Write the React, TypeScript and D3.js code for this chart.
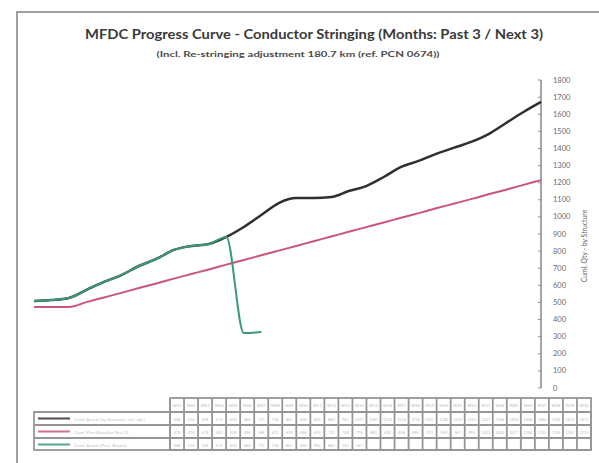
import React from "react";
import * as d3 from "d3";

const categories = [
  "W01","W02","W03","W04","W05","W06","W07","W08","W09","W10",
  "W11","W12","W13","W14","W15","W16","W17","W18","W19","W20",
  "W21","W22","W23","W24","W25","W26","W27","W28","W29","W30",
];

const actualCum = [
  508, 514, 526, 573, 620, 660, 713, 754, 807, 830,
  842, 883, 941, 1011, 1081, 1110, 1110, 1116, 1151, 1180,
  1233, 1292, 1327, 1368, 1403, 1438, 1484, 1549, 1613, 1672,
];

const planCum = [
  474, 474, 474, 502, 529, 556, 584, 611, 639, 666,
  693, 721, 748, 776, 803, 830, 858, 885, 913, 940,
  967, 995, 1022, 1050, 1077, 1104, 1132, 1159, 1187, 1215,
];

const prevActual: (number | null)[] = [
  508, 514, 526, 573, 620, 660, 713, 754, 807, 830,
  842, 883, 321, 327, null, null, null, null, null, null,
  null, null, null, null, null, null, null, null, null, null,
];

const yTicks = [0, 100, 200, 300, 400, 500, 600, 700, 800, 900, 1000, 1100, 1200, 1300, 1400, 1500, 1600, 1700, 1800];

const seriesNames = ["Cuml. Actual (by Structure, incl. adj.)", "Cuml. Plan (Baseline Rev. 2)", "Cuml. Actual (Prev. Report)"];
const seriesColors = ["#2f2f2f", "#c9547e", "#3a9a74"];

const title = "MFDC Progress Curve - Conductor Stringing (Months: Past 3 / Next 3)";
const subtitle = "(Incl. Re-stringing adjustment 180.7 km (ref. PCN 0674))";
const axisTitle = "Cuml. Qty - by Structure";

export default function App() {
  const W = 599, H = 463;
  const x = d3.scalePoint<number>().domain(categories.map((_, i) => i)).range([34, 541]);
  const y = d3.scaleLinear().domain([0, 1800]).range([388, 80]);

  const line = d3.line<number | null>()
    .defined((d) => d !== null)
    .x((_, i) => x(i) as number)
    .y((d) => y(d as number))
    .curve(d3.curveMonotoneX);

  const tableX0 = 170, tableX1 = 591;
  const colW = (tableX1 - tableX0) / categories.length;
  const rowYs = [398, 412, 425, 438, 450];
  const legendX0 = 34;
  const rows = [actualCum, planCum, prevActual];
  const gridColor = "#959595";
  const gw = 1.8;

  return (
    <svg width={W} height={H} style={{ position: "absolute", left: 0, top: 0, background: "#fff" }} fontFamily="Lato, 'Open Sans', sans-serif">
      {/* chart frame */}
      <rect x={17} y={12} width={W + 20} height={H + 20} fill="none" stroke="#a0a0a0" strokeWidth={2} />

      {/* titles */}
      <text x={314} y={39} textAnchor="middle" fontSize={12.8} fontWeight={700} fill="#3a3a3a" textLength={458} lengthAdjust="spacingAndGlyphs">{title}</text>
      <text x={298} y={57} textAnchor="middle" fontSize={8.2} fontWeight={700} fill="#4a4a4a" textLength={283} lengthAdjust="spacingAndGlyphs">{subtitle}</text>

      {/* right axis */}
      <line x1={541} x2={541} y1={y(1800)} y2={y(0)} stroke="#8f8f8f" strokeWidth={1.6} />
      {yTicks.map((t) => (
        <g key={t}>
          <line x1={538} x2={541} y1={y(t)} y2={y(t)} stroke="#8f8f8f" strokeWidth={1} />
          <text x={553} y={y(t) + 2.5} fontSize={7.5} fill="#6a6a6a">{t}</text>
        </g>
      ))}
      <text transform={`translate(587,246) rotate(-90)`} textAnchor="middle" fontSize={6.8} fill="#606060">{axisTitle}</text>

      {/* lines */}
      <path d={line(planCum) ?? ""} fill="none" stroke={seriesColors[1]} strokeWidth={2} />
      <path d={line(actualCum) ?? ""} fill="none" stroke={seriesColors[0]} strokeWidth={2.5} />
      <path d={line(prevActual) ?? ""} fill="none" stroke={seriesColors[2]} strokeWidth={2} />

      {/* data table */}
      <g>
        <rect x={tableX0} y={rowYs[0]} width={tableX1 - tableX0} height={rowYs[4] - rowYs[0]} fill="none" stroke={gridColor} strokeWidth={gw} />
        <rect x={legendX0} y={rowYs[1]} width={tableX1 - legendX0} height={rowYs[4] - rowYs[1]} fill="none" stroke={gridColor} strokeWidth={gw} />
        {rowYs.slice(1, 4).map((ry, k) => (
          <line key={"h" + k} x1={legendX0} x2={tableX1} y1={ry} y2={ry} stroke={gridColor} strokeWidth={gw} />
        ))}
        {categories.map((c, i) => (
          <line key={"v" + i} x1={tableX0 + i * colW} x2={tableX0 + i * colW} y1={rowYs[0]} y2={rowYs[4]} stroke={gridColor} strokeWidth={gw} />
        ))}
        {categories.map((c, i) => (
          <text key={"c" + i} x={tableX0 + (i + 0.5) * colW} y={rowYs[0] + 9} textAnchor="middle" fontSize={4} fill="#b8b8b8">{c}</text>
        ))}
        {rows.map((r, k) =>
          r.map((v, i) =>
            v === null ? null : (
              <text key={`t${k}-${i}`} x={tableX0 + (i + 0.5) * colW} y={rowYs[k + 1] + 8.5} textAnchor="middle" fontSize={3.8} fill="#b8b8b8">{v}</text>
            )
          )
        )}
        {seriesNames.map((n, k) => (
          <g key={"l" + k}>
            <line x1={38} x2={70} y1={rowYs[k + 1] + 6.5} y2={rowYs[k + 1] + 6.5} stroke={seriesColors[k]} strokeWidth={2} opacity={0.85} />
            <text x={74} y={rowYs[k + 1] + 8.5} fontSize={4.5} fill="#c0c0c0">{n}</text>
          </g>
        ))}
      </g>
    </svg>
  );
}
